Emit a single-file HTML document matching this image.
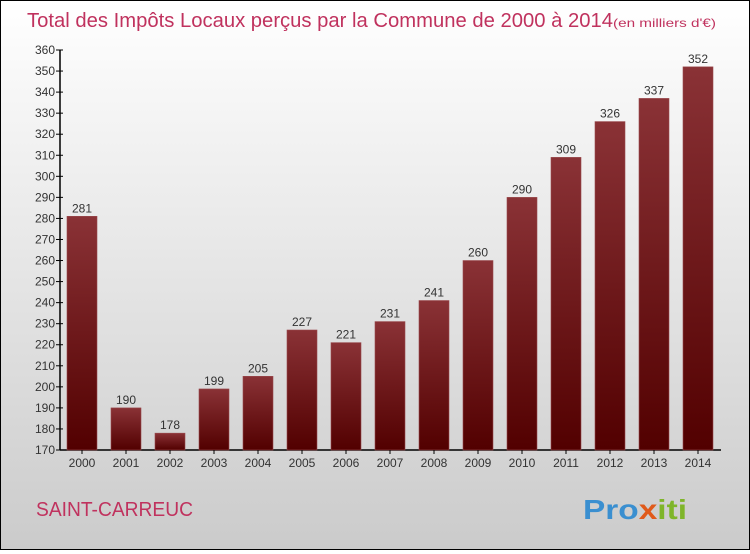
<!DOCTYPE html>
<html><head><meta charset="utf-8"><style>
body{margin:0}
#c{width:748px;height:548px;border:1px solid #000;background:linear-gradient(#fff,#cbcbcb);position:relative;font-family:"Liberation Sans",sans-serif}
</style></head><body>
<div id="c">
<svg width="748" height="548" id="s">
<defs><linearGradient id="g" x1="0" y1="0" x2="0" y2="1"><stop offset="0" stop-color="#8a3236"/><stop offset="1" stop-color="#520000"/></linearGradient></defs>
<text x="26" y="26" font-size="20" fill="#c0325e" textLength="586" lengthAdjust="spacingAndGlyphs">Total des Impôts Locaux perçus par la Commune de 2000 à 2014</text>
<text x="612" y="26" font-size="12" fill="#c0325e" textLength="103" lengthAdjust="spacingAndGlyphs">(en milliers d'€)</text>
<text x="35" y="515" font-size="20" fill="#c0325e" textLength="157" lengthAdjust="spacingAndGlyphs">SAINT-CARREUC</text>
<text x="582" y="518" font-size="28" font-weight="bold" textLength="104" lengthAdjust="spacingAndGlyphs"><tspan fill="#3a8fd0">Pro</tspan><tspan fill="#e05a1a">x</tspan><tspan fill="#7fb52a">iti</tspan></text>
<g id="plot"></g>
</svg></div>
<script>
const years=["2000","2001","2002","2003","2004","2005","2006","2007","2008","2009","2010","2011","2012","2013","2014"];
const values=[281,190,178,199,205,227,221,231,241,260,290,309,326,337,352];
const ticks=[170,180,190,200,210,220,230,240,250,260,270,280,290,300,310,320,330,340,350,360];
const NS="http://www.w3.org/2000/svg",p=document.getElementById('plot');
const y=v=>449-(v-170)*400/190, x=i=>81+i*44;
function mk(t,a){const e=document.createElementNS(NS,t);for(const k in a)e.setAttribute(k,a[k]);p.appendChild(e);return e;}
let ax=mk('line',{x1:59,y1:49,x2:59,y2:449,stroke:'#000','stroke-width':1.5});


let bx=mk('line',{x1:59,y1:449,x2:720,y2:449,stroke:'#000','stroke-width':1.5});


ticks.forEach(t=>{
 mk('line',{x1:55,y1:y(t),x2:62,y2:y(t),stroke:'#000'});
 const l=mk('text',{x:54,y:y(t)+4,'font-size':12,fill:'#333','text-anchor':'end'});l.textContent=t;
 
 
});
values.forEach((v,i)=>{
 const r=mk('rect',{x:x(i)-15,y:y(v),width:30,height:449-y(v),fill:'url(#g)',stroke:'#9a4a4e','stroke-width':0.6});
 
 
 const t=mk('text',{x:x(i),y:y(v)-4,'font-size':12,fill:'#333','text-anchor':'middle'});t.textContent=v;
 
 
 mk('line',{x1:x(i),y1:449,x2:x(i),y2:453,stroke:'#000'});
 const l=mk('text',{x:x(i),y:466,'font-size':12,fill:'#333','text-anchor':'middle'});l.textContent=years[i];
 
 
});
</script>
</body></html>
